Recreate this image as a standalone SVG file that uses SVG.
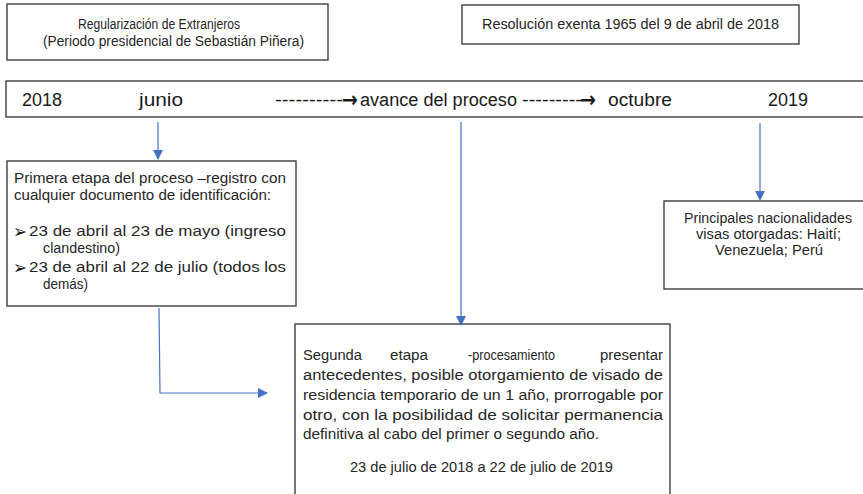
<svg xmlns="http://www.w3.org/2000/svg" width="863" height="494" viewBox="0 0 863 494">
<style>
.box{fill:#fff;stroke:#3f3f3f;stroke-width:1.4}
.t{font-family:"Liberation Sans","Open Sans",sans-serif;font-size:14px;fill:#262626}
.tl{font-family:"Liberation Sans","Open Sans",sans-serif;font-size:18px;fill:#1a1a1a}
.ar{font-family:"DejaVu Sans",sans-serif;font-size:22px;font-weight:bold;fill:#1a1a1a}
.c{fill:none;stroke:#4472C4;stroke-width:1.2}
.b{font-family:"DejaVu Sans",sans-serif;font-size:19px;fill:#1a1a1a}
</style>
<defs>
<marker id="ah" markerWidth="10" markerHeight="10" refX="9" refY="5" orient="auto" markerUnits="userSpaceOnUse">
<path d="M0,0 L10,5 L0,10 Z" fill="#4472C4"/>
</marker>
</defs>
<rect width="863" height="494" fill="#fff"/>
<g id="node-regularizacion">
<rect class="box" x="7" y="4" width="321" height="56"/>
<text class="t" x="78" y="29" textLength="162" lengthAdjust="spacingAndGlyphs">Regularización de Extranjeros</text>
<text class="t" x="43" y="46" textLength="261" lengthAdjust="spacingAndGlyphs">(Periodo presidencial de Sebastián Piñera)</text>
</g>
<g id="node-resolucion">
<rect class="box" x="462" y="5" width="337" height="39"/>
<text class="t" x="482" y="29" textLength="297" lengthAdjust="spacingAndGlyphs">Resolución exenta 1965 del 9 de abril de 2018</text>
</g>
<g id="node-timeline">
<rect class="box" x="6" y="81" width="870" height="36"/>
<text class="tl" x="22" y="106" textLength="40" lengthAdjust="spacingAndGlyphs">2018</text>
<text class="tl" x="139" y="106" textLength="44" lengthAdjust="spacingAndGlyphs">junio</text>
<text class="tl" x="275" y="106" textLength="68" lengthAdjust="spacingAndGlyphs">----------</text>
<text class="ar" x="342" y="107" textLength="16" lengthAdjust="spacingAndGlyphs">→</text>
<text class="tl" x="360" y="106" textLength="157" lengthAdjust="spacingAndGlyphs">avance del proceso</text>
<text class="tl" x="522" y="106" textLength="60" lengthAdjust="spacingAndGlyphs">---------</text>
<text class="ar" x="580" y="107" textLength="16" lengthAdjust="spacingAndGlyphs">→</text>
<text class="tl" x="608" y="106" textLength="64" lengthAdjust="spacingAndGlyphs">octubre</text>
<text class="tl" x="768" y="106" textLength="40" lengthAdjust="spacingAndGlyphs">2019</text>
</g>
<g id="node-primera">
<rect class="box" x="7" y="161" width="289" height="145"/>
<text class="t" x="14" y="183" textLength="272" lengthAdjust="spacingAndGlyphs">Primera etapa del proceso –registro con</text>
<text class="t" x="14" y="200" textLength="257" lengthAdjust="spacingAndGlyphs">cualquier documento de identificación:</text>
<text class="b" x="13" y="238" textLength="14" lengthAdjust="spacingAndGlyphs">➢</text>
<text class="t" x="29" y="236" textLength="257" lengthAdjust="spacingAndGlyphs">23 de abril al 23 de mayo (ingreso</text>
<text class="t" x="43" y="253" textLength="77" lengthAdjust="spacingAndGlyphs">clandestino)</text>
<text class="b" x="13" y="274" textLength="14" lengthAdjust="spacingAndGlyphs">➢</text>
<text class="t" x="29" y="272" textLength="257" lengthAdjust="spacingAndGlyphs">23 de abril al 22 de julio (todos los</text>
<text class="t" x="43" y="289" textLength="45" lengthAdjust="spacingAndGlyphs">demás)</text>
</g>
<g id="node-segunda">
<rect class="box" x="295" y="324" width="375" height="180"/>
<text class="t" x="303" y="360" textLength="59" lengthAdjust="spacingAndGlyphs">Segunda</text>
<text class="t" x="390" y="360" textLength="38" lengthAdjust="spacingAndGlyphs">etapa</text>
<text class="t" x="468" y="360" textLength="87" lengthAdjust="spacingAndGlyphs">-procesamiento</text>
<text class="t" x="600" y="360" textLength="63" lengthAdjust="spacingAndGlyphs">presentar</text>
<text class="t" x="303" y="380" textLength="360" lengthAdjust="spacingAndGlyphs">antecedentes, posible otorgamiento de visado de</text>
<text class="t" x="303" y="400" textLength="360" lengthAdjust="spacingAndGlyphs">residencia temporario de un 1 año, prorrogable por</text>
<text class="t" x="303" y="420" textLength="360" lengthAdjust="spacingAndGlyphs">otro, con la posibilidad de solicitar permanencia</text>
<text class="t" x="303" y="439" textLength="296" lengthAdjust="spacingAndGlyphs">definitiva al cabo del primer o segundo año.</text>
<text class="t" x="350" y="472" textLength="263" lengthAdjust="spacingAndGlyphs">23 de julio de 2018 a 22 de julio de 2019</text>
</g>
<g id="node-nacionalidades">
<rect class="box" x="664" y="201" width="210" height="88"/>
<text class="t" x="684" y="223" textLength="168" lengthAdjust="spacingAndGlyphs">Principales nacionalidades</text>
<text class="t" x="696" y="239" textLength="145" lengthAdjust="spacingAndGlyphs">visas otorgadas: Haití;</text>
<text class="t" x="715" y="255" textLength="108" lengthAdjust="spacingAndGlyphs">Venezuela; Perú</text>
</g>
<g id="connectors">
<line class="c" x1="158" y1="122" x2="158" y2="159" marker-end="url(#ah)"/>
<line class="c" x1="461" y1="122" x2="461" y2="325" marker-end="url(#ah)"/>
<line class="c" x1="760" y1="123" x2="760" y2="200" marker-end="url(#ah)"/>
<polyline class="c" points="159,308 160,393 267,393" marker-end="url(#ah)"/>
</g>
</svg>
